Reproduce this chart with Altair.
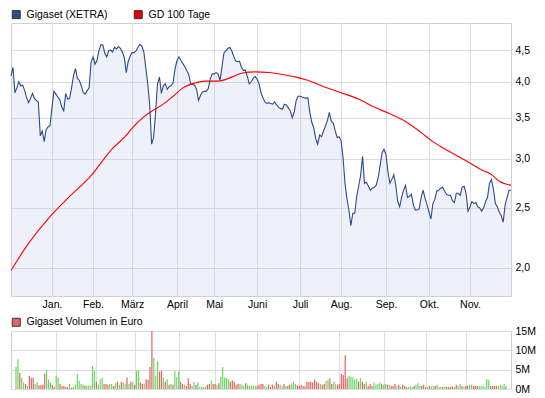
import altair as alt
import pandas as pd

FONT = "Liberation Sans"
BLUE = "#2f4a8a"
RED = "#ff0000"
GREEN_BAR = "#6ad860"
RED_BAR = "#e06464"
VOL_LEGEND = "#e06666"

# ---- x axis: trading-day index, month starts ----
months = ["Jan.", "Feb.", "März", "April", "Mai", "Juni", "Juli", "Aug.", "Sep.", "Okt.", "Nov."]
month_start_day = [21, 42, 62, 85, 104, 126, 148, 169, 192, 214, 235]

series_names = ["Gigaset (XETRA)", "GD 100 Tage"]

# ---- Gigaset closing prices (EUR), one per trading day ----
price = [
    4.09, 4.22, 3.84, 3.91, 4.00, 3.94, 3.95, 3.87, 3.77, 3.70,
    3.76, 3.83, 3.76, 3.73, 3.71, 3.27, 3.33, 3.20, 3.35, 3.38,
    3.40, 3.64, 3.86, 3.82, 3.78, 3.74, 3.64, 3.59, 3.83, 3.75,
    3.76, 3.91, 4.09, 4.20, 4.05, 4.02, 3.94, 3.84, 3.82, 3.87,
    3.91, 4.30, 4.39, 4.27, 4.33, 4.49, 4.59, 4.59, 4.45, 4.39,
    4.49, 4.50, 4.47, 4.55, 4.52, 4.56, 4.53, 4.47, 4.38, 4.14,
    4.31, 4.40, 4.46, 4.46, 4.49, 4.55, 4.60, 4.57, 4.47, 4.22,
    3.97, 3.68, 3.17, 3.25, 3.55, 3.97, 4.07, 3.83, 3.94, 3.97,
    3.89, 3.93, 3.94, 3.99, 4.20, 4.33, 4.39, 4.33, 4.28, 4.23,
    4.17, 4.11, 3.97, 3.96, 3.95, 3.89, 3.73, 3.80, 3.85, 3.86,
    3.86, 3.90, 4.04, 4.12, 4.12, 4.14, 4.12, 4.02, 4.22, 4.45,
    4.49, 4.53, 4.55, 4.49, 4.40, 4.32, 4.31, 4.32, 4.22, 4.17,
    4.18, 4.08, 3.97, 4.00, 4.05, 4.08, 4.04, 3.97, 3.84, 3.77,
    3.71, 3.69, 3.70, 3.69, 3.68, 3.71, 3.67, 3.64, 3.62, 3.61,
    3.68, 3.67, 3.63, 3.59, 3.50, 3.57, 3.73, 3.79, 3.79, 3.78,
    3.77, 3.76, 3.77, 3.57, 3.44, 3.37, 3.24, 3.17, 3.28, 3.26,
    3.33, 3.39, 3.46, 3.57, 3.45, 3.43, 3.33, 3.25, 3.26, 3.21,
    3.02, 2.74, 2.59, 2.48, 2.34, 2.45, 2.45, 2.61, 2.71, 2.82,
    3.03, 2.74, 2.75, 2.71, 2.67, 2.69, 2.70, 2.72, 2.80, 2.93,
    3.07, 3.11, 3.05, 2.86, 2.74, 2.78, 2.83, 2.72, 2.56, 2.51,
    2.60, 2.67, 2.72, 2.60, 2.61, 2.63, 2.53, 2.48, 2.48, 2.49,
    2.60, 2.67, 2.59, 2.53, 2.46, 2.40, 2.54, 2.58, 2.66, 2.67,
    2.69, 2.70, 2.66, 2.63, 2.62, 2.62, 2.57, 2.55, 2.64, 2.64,
    2.62, 2.70, 2.71, 2.64, 2.47, 2.51, 2.56, 2.54, 2.55, 2.51,
    2.50, 2.47, 2.50, 2.56, 2.60, 2.74, 2.78, 2.68, 2.54, 2.51,
    2.46, 2.43, 2.37, 2.53, 2.60, 2.67, 2.67,
]

# ---- 100-day moving average (read at selected days) ----
ma_day = [0, 9, 19, 29, 41, 52, 58, 63, 68, 73, 78, 83, 88, 94, 99, 106, 113, 118,
          125, 132, 139, 146, 151, 162, 169, 178, 186, 194, 202, 210, 216, 224,
          233, 241, 246, 250, 256]
ma_value = [1.98, 2.19, 2.40, 2.59, 2.82, 3.12, 3.25, 3.39, 3.51, 3.60, 3.68, 3.79,
            3.91, 3.98, 4.01, 4.01, 4.07, 4.13, 4.15, 4.14, 4.11, 4.07, 4.03, 3.91,
            3.84, 3.75, 3.64, 3.55, 3.45, 3.31, 3.20, 3.09, 2.98, 2.88, 2.83, 2.76,
            2.72]

# ---- daily turnover in million EUR, and day direction (u = up, d = down) ----
volume_m = [
    5.7, 7.7, 4.2, 2.9, 1.7, 1.3, 0.8, 3.4, 2.9, 3.0,
    1.3, 1.9, 0.9, 1.0, 1.1, 4.0, 4.9, 2.4, 1.7, 1.1,
    0.5, 3.4, 3.0, 1.3, 0.7, 0.8, 0.5, 0.5, 1.3, 0.3,
    0.4, 1.1, 3.9, 2.1, 1.3, 1.1, 0.9, 0.8, 0.9, 0.9,
    6.0, 4.7, 1.9, 1.1, 2.5, 3.0, 1.3, 1.3, 1.1, 1.3,
    1.3, 0.8, 1.5, 1.9, 1.1, 1.9, 1.7, 1.3, 3.0, 1.3,
    1.9, 1.9, 1.1, 4.7, 4.9, 1.7, 1.3, 1.3, 2.5, 2.4,
    5.7, 15.0, 8.1, 3.4, 7.2, 4.5, 4.7, 3.0, 1.9, 2.5,
    1.1, 1.3, 1.1, 4.6, 3.2, 4.6, 1.9, 1.3, 1.1, 0.8,
    2.8, 1.3, 0.8, 1.9, 1.1, 1.7, 0.5, 0.5, 0.5, 0.7,
    1.1, 1.3, 2.2, 1.3, 1.3, 1.1, 1.5, 3.2, 5.7, 3.0,
    2.9, 2.5, 1.9, 2.2, 1.9, 1.1, 1.3, 1.3, 1.1, 0.8,
    1.5, 1.1, 0.8, 0.8, 0.8, 0.8, 0.8, 1.1, 1.3, 1.3,
    0.8, 0.5, 1.1, 0.5, 1.1, 0.8, 1.9, 1.3, 1.1, 0.8,
    1.3, 0.8, 0.8, 1.1, 1.5, 1.9, 1.3, 0.9, 0.8, 1.1,
    0.8, 0.7, 1.9, 1.9, 1.9, 1.7, 2.5, 1.9, 1.5, 1.3,
    1.1, 1.3, 2.1, 2.4, 2.8, 1.3, 1.9, 1.3, 1.1, 1.3,
    3.9, 3.6, 8.7, 2.8, 3.4, 3.2, 3.0, 2.4, 2.5, 1.9,
    2.8, 1.9, 1.3, 1.9, 0.8, 1.3, 0.8, 1.7, 1.1, 1.3,
    1.7, 1.3, 1.1, 1.3, 1.1, 1.1, 0.8, 0.8, 1.3, 0.8,
    1.1, 0.7, 1.1, 0.8, 0.5, 0.5, 0.7, 0.5, 0.8, 1.1,
    1.5, 0.8, 0.8, 1.1, 0.5, 0.5, 0.8, 0.7, 0.8, 0.8,
    1.1, 0.5, 0.5, 0.5, 0.7, 0.5, 0.5, 0.5, 0.7, 0.5,
    1.1, 0.8, 1.3, 0.8, 0.5, 0.8, 0.8, 1.1, 1.1, 0.8,
    0.8, 0.8, 0.8, 0.8, 0.8, 0.5, 2.6, 2.4, 0.8, 0.8,
    0.8, 0.8, 0.8, 1.1, 0.8, 1.3, 0.7,
]
volume_dir_rows = [
    "uuduududdd", "uudddduuud", "duudddddud", "duuuuuduuu", "uuduuudddu",
    "udududuudu", "duduuddudd", "dduuuddudu", "duduuuddud", "dduuduuuuu",
    "ddudduduuu", "uuddddduuu", "duuuuudddd", "uudddudduu", "dudduuuddd",
    "dddddddddu", "dduudduudd", "dddduuuuud", "udduddduuu", "uduududddu",
    "duddduuudu", "uudduuduud", "uuududdddu", "duududduud", "dduuuuuudd",
    "dduuuud",
]
volume_dir = ["up" if c == "u" else "down" for c in "".join(volume_dir_rows)]
volume_legend = ["Gigaset Volumen in Euro"]

# ---------------------------------------------------------------------------
n_days = len(price)
x_scale = alt.Scale(domain=[0, n_days - 1], nice=False, zero=False)

month_expr = (
    "[" + ",".join("'" + m + "'" for m in months) + "]"
    + "[indexof([" + ",".join(str(d) for d in month_start_day) + "], datum.value)]"
)

x_axis_top = alt.Axis(values=month_start_day, labelExpr=month_expr, grid=True,
                      ticks=False, domain=False, title=None, labelPadding=3,
                      labelOverlap=False, labelAngle=0)
x_axis_vol = alt.Axis(values=month_start_day, labels=False, grid=True,
                      ticks=False, domain=False, title=None)

y_scale = alt.Scale(type="log", domain=[1.8, 4.98], nice=False, zero=False)
y_axis = alt.Axis(orient="right", values=[2.0, 2.5, 3.0, 3.5, 4.0, 4.5],
                  labelExpr="replace(format(datum.value, '.1f'), '.', ',')",
                  grid=True, ticks=False, domain=False, title=None,
                  labelPadding=4, labelOverlap=False)

price_df = pd.DataFrame({"day": list(range(n_days)), "price": price})
ma_df = pd.DataFrame({"day": ma_day, "price": ma_value})
legend_df = pd.DataFrame({"series": series_names, "day": [0, ma_day[0]],
                          "price": [price[0], ma_value[0]]})

X = alt.X("day:Q", scale=x_scale, axis=x_axis_top)
Y = alt.Y("price:Q", scale=y_scale, axis=y_axis)


def square_legend():
    return alt.Legend(title=None, orient="none", legendX=0, legendY=-14,
                      direction="horizontal", symbolType="square",
                      symbolSize=64, symbolOpacity=1,
                      symbolStrokeColor="#333333", symbolStrokeWidth=1,
                      labelFont=FONT, labelFontSize=10.5,
                      labelColor="#000000", labelOffset=5, columnPadding=24)


area = alt.Chart(price_df).mark_area(color="#c8d2f0", opacity=0.3).encode(
    x=X, y=Y, y2=alt.datum(1.8)
)
blue_line = alt.Chart(price_df).mark_line(color=BLUE, strokeWidth=1.1).encode(x=X, y=Y)
red_line = alt.Chart(ma_df).mark_line(color=RED, strokeWidth=1.1,
                                      interpolate="monotone").encode(x=X, y=Y)
top_legend = alt.Chart(legend_df).mark_square(opacity=0, size=4).encode(
    x=X, y=Y,
    fill=alt.Fill("series:N",
                  scale=alt.Scale(domain=series_names, range=[BLUE, "#ee0000"]),
                  legend=square_legend()),
)

top = alt.layer(area, blue_line, red_line, top_legend).properties(width=500, height=273)

vol_df = pd.DataFrame({"day": list(range(len(volume_m))), "volume": volume_m,
                       "dir": volume_dir})
vol_legend_df = pd.DataFrame({"series": volume_legend, "day": [0],
                              "volume": [volume_m[0]]})

XV = alt.X("day:Q", scale=x_scale, axis=x_axis_vol)
YV = alt.Y("volume:Q", scale=alt.Scale(domain=[0, 15], nice=False),
           axis=alt.Axis(orient="right", values=[0, 5, 10, 15],
                         labelExpr="datum.value + 'M'", grid=True, ticks=False,
                         domain=False, title=None, labelPadding=4,
                         labelOverlap=False))

bars = alt.Chart(vol_df).mark_bar(size=1.2).encode(
    x=XV, y=YV,
    color=alt.Color("dir:N", scale=alt.Scale(domain=["up", "down"],
                                             range=[GREEN_BAR, RED_BAR]),
                    legend=None),
)
vol_legend = alt.Chart(vol_legend_df).mark_square(opacity=0, size=4).encode(
    x=XV, y=YV,
    fill=alt.Fill("series:N", scale=alt.Scale(domain=volume_legend, range=[VOL_LEGEND]),
                  legend=square_legend()),
)
bottom = alt.layer(bars, vol_legend).properties(width=500, height=58)

chart = (
    alt.vconcat(top, bottom, spacing=6)
    .properties(padding={"left": 0, "top": 0, "right": 0, "bottom": 0},
                background="#ffffff")
    .resolve_scale(x="independent", fill="independent", color="independent")
    .resolve_legend(fill="independent", color="independent")
    .configure_view(stroke="#d0d0d0", strokeWidth=1)
    .configure_axis(labelFont=FONT, labelFontSize=10.5, labelColor="#000000",
                    gridColor="#dcdcdc", gridWidth=1)
)

chart.save("out.html", embed_options={"renderer": "svg", "actions": False})
